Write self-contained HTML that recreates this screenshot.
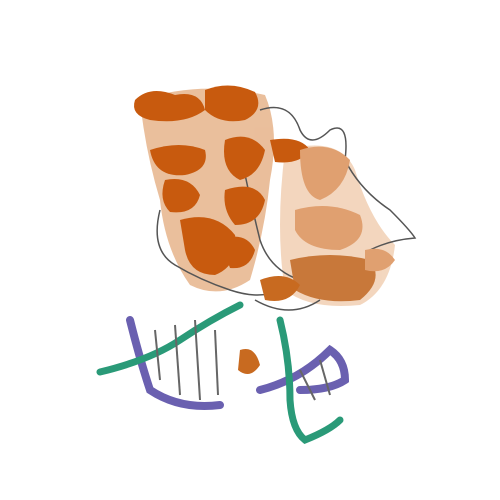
<!DOCTYPE html>
<html><head><meta charset="utf-8"><style>html,body{margin:0;background:#fff}svg{display:block}</style></head>
<body>
<svg width="500" height="500" viewBox="0 0 500 500">
<rect width="500" height="500" fill="#fff"/>
<g opacity="0.55">
<path d="M140 100 Q200 80 265 95 Q280 130 270 180 Q265 230 250 280 Q220 300 190 285 Q165 250 160 200 Q145 150 140 100Z" fill="#d98a4a"/>
<path d="M285 150 Q340 135 355 170 Q370 220 395 245 Q390 290 360 305 Q310 310 285 290 Q275 230 285 150Z" fill="#eab68a"/>
</g>
<g fill="none" stroke="#555" stroke-width="1.5">
<path d="M160 210 Q150 250 175 265 Q200 280 230 290 Q260 300 280 290"/>
<path d="M260 110 Q290 100 300 130 Q310 150 330 130 Q350 120 345 160 Q360 190 390 210 Q410 230 415 238 Q390 240 370 250"/>
<path d="M255 300 Q290 320 320 300"/>
<path d="M240 150 Q250 200 260 240 Q270 270 300 280"/>
</g>
<g fill="#c85a0e">
<path d="M135 100 Q150 85 175 95 Q200 90 205 110 Q185 125 150 120 Q130 115 135 100Z"/>
<path d="M205 90 Q230 80 255 92 Q265 110 245 120 Q220 125 205 110Z"/>
<path d="M150 150 Q180 140 205 150 Q210 170 185 175 Q155 178 150 150Z"/>
<path d="M165 180 Q190 175 200 195 Q195 215 170 212 Q158 200 165 180Z"/>
<path d="M180 220 Q215 210 235 235 Q240 265 215 275 Q190 275 185 250Z"/>
<path d="M225 140 Q250 130 265 150 Q260 175 240 180 Q220 170 225 140Z"/>
<path d="M225 190 Q255 180 265 200 Q260 225 235 225 Q222 210 225 190Z"/>
<path d="M270 140 Q300 135 310 150 Q300 165 275 162Z"/>
<path d="M220 240 Q245 230 255 250 Q250 270 230 268Z"/>
</g>
<g fill="#e0a070">
<path d="M300 150 Q330 140 350 160 Q345 190 320 200 Q300 195 300 150Z"/>
<path d="M295 210 Q330 200 360 215 Q370 240 340 250 Q305 250 295 230Z"/>
<path d="M290 260 Q330 250 370 260 Q385 280 360 300 Q320 305 295 290Z" fill="#c8783a"/>
<path d="M365 250 Q385 245 395 260 Q385 275 365 270Z"/>
<path d="M260 280 Q285 270 300 285 Q290 305 265 300Z" fill="#c86a20"/>
</g>
<path d="M240 350 Q255 345 260 365 Q250 380 238 370Z" fill="#c86a20"/>
<g fill="none" stroke="#6a60b0" stroke-width="8" stroke-linecap="round">
<path d="M130 320 Q140 360 150 390 Q180 410 220 405"/>
<path d="M260 390 Q300 380 330 350 Q345 360 345 380 Q330 390 300 390"/>
</g>
<g fill="none" stroke="#2a9a78" stroke-width="7" stroke-linecap="round">
<path d="M100 372 Q150 360 180 340 Q210 320 240 305"/>
<path d="M280 320 Q290 360 290 400 Q292 430 305 440 Q330 430 340 420"/>
</g>
<g stroke="#666" stroke-width="2">
<path d="M155 330 L160 380"/><path d="M175 325 L180 395"/><path d="M195 320 L200 400"/><path d="M215 330 L218 395"/><path d="M300 370 L315 400"/><path d="M320 360 L330 395"/>
</g>
</svg>
</body></html>
